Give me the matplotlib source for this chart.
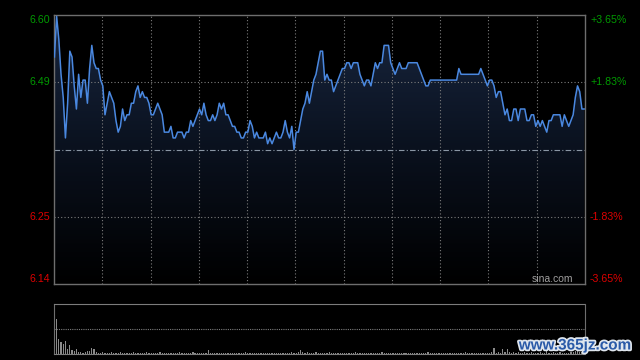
import matplotlib
matplotlib.use('Agg')
import matplotlib.pyplot as plt
import matplotlib.patheffects as pe
from matplotlib.colors import LinearSegmentedColormap
import numpy as np

plt.rcParams['font.family'] = ['Liberation Sans', 'DejaVu Sans']

# intraday data, one value per minute (242 minutes)
prev_close = 6.37
price = [
    6.53, 6.60, 6.56, 6.50, 6.46, 6.39, 6.45, 6.54, 6.53, 6.48,
    6.44, 6.50, 6.46, 6.49, 6.49, 6.45, 6.51, 6.55, 6.52, 6.51,
    6.51, 6.49, 6.48, 6.43, 6.45, 6.47, 6.46, 6.45, 6.42, 6.40,
    6.41, 6.44, 6.42, 6.43, 6.43, 6.45, 6.45, 6.47, 6.48, 6.46,
    6.47, 6.46, 6.46, 6.45, 6.43, 6.43, 6.44, 6.45, 6.44, 6.43,
    6.40, 6.40, 6.40, 6.41, 6.39, 6.39, 6.40, 6.40, 6.40, 6.39,
    6.40, 6.40, 6.42, 6.41, 6.42, 6.43, 6.44, 6.43, 6.45, 6.43,
    6.42, 6.42, 6.43, 6.42, 6.43, 6.45, 6.44, 6.45, 6.43, 6.43,
    6.42, 6.41, 6.41, 6.40, 6.40, 6.39, 6.39, 6.40, 6.40, 6.42,
    6.41, 6.39, 6.40, 6.39, 6.39, 6.39, 6.40, 6.38, 6.39, 6.38,
    6.39, 6.40, 6.39, 6.39, 6.40, 6.42, 6.40, 6.39, 6.41, 6.37,
    6.40, 6.40, 6.42, 6.44, 6.45, 6.47, 6.45, 6.47, 6.49, 6.50,
    6.52, 6.54, 6.54, 6.49, 6.50, 6.49, 6.49, 6.47, 6.48, 6.49,
    6.50, 6.51, 6.51, 6.52, 6.52, 6.51, 6.52, 6.52, 6.52, 6.50,
    6.49, 6.48, 6.49, 6.49, 6.48, 6.50, 6.52, 6.51, 6.52, 6.52,
    6.55, 6.55, 6.55, 6.52, 6.51, 6.50, 6.51, 6.52, 6.51, 6.51,
    6.51, 6.52, 6.52, 6.52, 6.52, 6.52, 6.51, 6.50, 6.49, 6.48,
    6.48, 6.49, 6.49, 6.49, 6.49, 6.49, 6.49, 6.49, 6.49, 6.49,
    6.49, 6.49, 6.49, 6.49, 6.51, 6.50, 6.50, 6.50, 6.50, 6.50,
    6.50, 6.50, 6.50, 6.50, 6.51, 6.50, 6.49, 6.48, 6.49, 6.49,
    6.48, 6.46, 6.47, 6.47, 6.45, 6.43, 6.44, 6.42, 6.42, 6.44,
    6.44, 6.42, 6.44, 6.44, 6.44, 6.42, 6.42, 6.43, 6.43, 6.41,
    6.42, 6.41, 6.42, 6.41, 6.40, 6.42, 6.42, 6.43, 6.43, 6.43,
    6.43, 6.41, 6.43, 6.42, 6.41, 6.42, 6.43, 6.46, 6.48, 6.47,
    6.44, 6.44,
]
volume = [
    48, 35, 15, 12, 10, 13, 5, 9, 4, 3, 5, 2, 2, 1, 2, 3, 3, 6, 5, 2,
    1.5, 1, 2, 1, 1.5, 1, 2, 1, 1, 1.5, 2, 1, 1, 1.5, 1, 1, 2, 1, 1.5, 1,
    1, 1.5, 2, 1, 1, 1.5, 1, 1, 2, 1, 1.5, 1, 1, 1, 1.5, 1, 1, 2, 1, 1,
    1.5, 1, 1, 2, 1, 1, 1.5, 1, 1, 1, 4.3, 1.5, 1, 1, 1, 1.5, 1, 1, 1, 1.5,
    1, 1, 1.5, 1, 1, 1, 1, 2, 1, 1, 1, 1.5, 1, 1, 1, 1, 1.5, 1, 1, 1,
    1, 1.5, 1, 1, 1, 1.5, 1, 1, 2, 1, 1.5, 2, 4, 2.5, 1.5, 2, 1.5, 1, 1.5, 2.5,
    1.5, 1, 1.5, 1, 1, 2, 1, 1.5, 1, 1, 1.5, 1, 1, 1, 1.5, 1, 1, 2, 1, 1,
    1, 1, 1.5, 1, 1, 1, 1.5, 1, 1, 2, 1, 1, 1, 1.5, 1, 1, 1, 1.5, 1, 1,
    1, 1.5, 1, 1, 1, 1, 1.5, 1, 1, 1, 2, 1, 1, 1, 1.5, 1, 1, 1, 1, 1.5,
    1, 1, 1, 1.5, 1, 1, 1, 2, 1, 1, 1.5, 1, 1, 1, 1.5, 1, 1, 1.5, 1.5, 2,
    6, 1.5, 2, 1.5, 5, 2, 5, 2, 1.5, 2, 1.5, 2, 1.5, 1, 2, 1.5, 1, 2, 1.5, 1,
    1.5, 2, 1, 1.5, 3, 1.5, 1, 2, 1.5, 1, 2, 1.5, 1, 1, 1.5, 2, 2.5, 3, 3.5, 2.5,
    2, 3,
]
left_labels = ['6.60', '6.49', '6.25', '6.14']
right_labels = ['+3.65%', '+1.83%', '-1.83%', '-3.65%']
pct_levels = [3.65, 1.83, -1.83, -3.65]

GREEN = '#009a00'
RED = '#dd0000'
FRAME = '#6e6e6e'
GRID = '#7c7c7c'

x = np.arange(len(price))
ylo = prev_close * (1 - 0.0365)
yhi = prev_close * (1 + 0.0365)
x0, x1 = -0.2, len(price) - 0.6

fig = plt.figure(figsize=(6.4, 3.6), dpi=100, facecolor='black')
ax = fig.add_axes([54 / 640, 1 - 284 / 360, 531 / 640, 269 / 360])
vax = fig.add_axes([54 / 640, 1 - 354 / 360, 531 / 640, 50 / 360])

# main price panel
ax.set_facecolor('black')
ax.set_xlim(x0, x1)
ax.set_ylim(ylo, yhi)
ax.set_xticks([]); ax.set_yticks([])
for s in ax.spines.values():
    s.set_color(FRAME); s.set_linewidth(1)

# gradient fill under the line
fill = ax.fill_between(x, price, ylo, facecolor='none', edgecolor='none')
cmap = LinearSegmentedColormap.from_list('navy', ['#000000', '#0a111e', '#18263f'])
grad = np.linspace(1, 0, 256).reshape(-1, 1)
im = ax.imshow(grad, extent=[x0, x1, ylo, yhi], aspect='auto', cmap=cmap,
               origin='upper', zorder=1)
im.set_clip_path(fill.get_paths()[0], transform=ax.transData)

for k in range(1, 11):
    ax.axvline(x0 + k * (x1 - x0) / 11, color=GRID, lw=0.8, ls=(0, (1, 2)), zorder=2)
for p in [1.83, -1.83]:
    ax.axhline(prev_close * (1 + p / 100), color=GRID, lw=0.8, ls=(0, (1, 2)), zorder=2)
ax.axhline(prev_close, color='#8a96a4', lw=0.8, ls=(0, (5, 2, 1, 2)), zorder=2)

ax.plot(x, price, color='#4a88e0', lw=1.1, zorder=3)

# axis labels
ytr = ax.get_yaxis_transform()
for lab, rlab, p in zip(left_labels, right_labels, pct_levels):
    yv = prev_close * (1 + p / 100)
    col = GREEN if p > 0 else RED
    va = 'center'
    if p == 3.65:
        va = 'top'
    elif p == -3.65:
        va = 'bottom'
    ax.text(-3.5 / 531, yv, lab, transform=ytr, ha='right', va=va,
            color=col, fontsize=7.7, clip_on=False)
    ax.text(1 + 5 / 531, yv, rlab, transform=ytr, ha='left', va=va,
            color=col, fontsize=7.7, clip_on=False)

fig.text(573.5 / 640, 1 - 279 / 360, 'sina.com', ha='right', va='center',
         color='#a0a0a0', fontsize=7.5)

# volume panel
vax.set_facecolor('black')
vax.set_xlim(x0, x1)
vax.set_ylim(0, 50)
vax.set_xticks([]); vax.set_yticks([])
vax.bar(x, volume, width=0.55, color='#8a8a8a', linewidth=0)
vax.axhline(25, color=GRID, lw=0.8, ls=(0, (1, 1)))
for side in ['left', 'right']:
    vax.spines[side].set_color(FRAME)
for side in ['top', 'bottom']:
    vax.spines[side].set_color(GRID)
    vax.spines[side].set_linestyle((0, (1, 1)))

fig.text(575 / 640, 1 - 345.5 / 360, 'www.365jz.com', ha='center', va='center',
         fontsize=11, fontweight='bold', color='#2a5aa8',
         path_effects=[pe.withStroke(linewidth=2.5, foreground='#dfe6ee')])

fig.savefig('out.png', dpi=100, facecolor='black')
